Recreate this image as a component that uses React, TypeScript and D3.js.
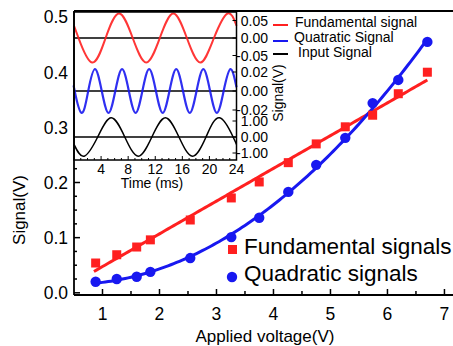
import React from "react";
import * as d3 from "d3";

// main plot data
const voltage = [0.88, 1.25, 1.6, 1.84, 2.54, 3.26, 3.75, 4.26, 4.75, 5.26, 5.74, 6.19, 6.7];
const fundamental = [0.054, 0.069, 0.083, 0.096, 0.132, 0.172, 0.201, 0.236, 0.27, 0.301, 0.322, 0.361, 0.4];
const quadratic = [0.02, 0.025, 0.029, 0.038, 0.063, 0.101, 0.136, 0.183, 0.232, 0.281, 0.344, 0.386, 0.455];
const fitRange = [0.85, 6.7];
const xTicks = [1, 2, 3, 4, 5, 6, 7];
const yTicks = [0, 0.1, 0.2, 0.3, 0.4, 0.5];

// inset traces: key points (extrema and zero crossings)
const redT = [0, 0.67, 2.67, 4.67, 6.67, 8.67, 10.67, 12.67, 14.67, 16.67, 18.67, 20.67, 22.67, 24];
const redV = [0.035, 0, -0.07, 0, 0.07, 0, -0.07, 0, 0.07, 0, -0.07, 0, 0.07, 0.035];
const blueT = [0, 0.1, 1.1, 2.1, 3.1, 4.1, 5.1, 6.1, 7.1, 8.1, 9.1, 10.1, 11.1, 12.1, 13.1, 14.1, 15.1, 16.1, 17.1, 18.1, 19.1, 20.1, 21.1, 22.1, 23.1, 24];
const blueV = [0.004, 0, -0.023, 0, 0.023, 0, -0.023, 0, 0.023, 0, -0.023, 0, 0.023, 0, -0.023, 0, 0.023, 0, -0.023, 0, 0.023, 0, -0.023, 0, 0.023, 0.004];
const blackT = [0, 1.5, 3.5, 5.5, 7.5, 9.5, 11.5, 13.5, 15.5, 17.5, 19.5, 21.5, 23.5, 24];
const blackV = [-0.46, -1.2, 0, 1.2, 0, -1.2, 0, 1.2, 0, -1.2, 0, 1.2, 0, -0.46];
const timeTicks = [4, 8, 12, 16, 20, 24];
const redTicks = [0.05, 0, -0.05];
const blueTicks = [0.02, 0, -0.02];
const blackTicks = [1, 0, -1];

const RED = "#ff2020";
const BLUE = "#1818f0";
const FONT = "'Liberation Sans', Arial, sans-serif";

function linFit(xs: number[], ys: number[]) {
  const mx = d3.mean(xs)!;
  const my = d3.mean(ys)!;
  const b = d3.sum(xs, (v, i) => (v - mx) * (ys[i] - my)) / d3.sum(xs, (v) => (v - mx) ** 2);
  return (v: number) => my + b * (v - mx);
}

// least squares quadratic through the points
function quadFit(xs: number[], ys: number[]) {
  const s = [0, 1, 2, 3, 4].map((k) => d3.sum(xs, (v) => v ** k));
  const t = [0, 1, 2].map((k) => d3.sum(xs, (v, i) => v ** k * ys[i]));
  const m = [
    [s[0], s[1], s[2]],
    [s[1], s[2], s[3]],
    [s[2], s[3], s[4]],
  ];
  const det = (a: number[][]) =>
    a[0][0] * (a[1][1] * a[2][2] - a[1][2] * a[2][1]) -
    a[0][1] * (a[1][0] * a[2][2] - a[1][2] * a[2][0]) +
    a[0][2] * (a[1][0] * a[2][1] - a[1][1] * a[2][0]);
  const D = det(m);
  const c = [0, 1, 2].map((j) => det(m.map((row, i) => row.map((v, k) => (k === j ? t[i] : v)))) / D);
  return (v: number) => c[0] + c[1] * v + c[2] * v * v;
}

export default function App() {
  const x = d3.scaleLinear().domain([0.5, 7.15]).range([74, 453]);
  const y = d3.scaleLinear().domain([-0.004, 0.511]).range([295, 11]);

  const fitX = d3.range(fitRange[0], fitRange[1] + 0.001, 0.05);
  const lf = linFit(voltage, fundamental);
  const qf = quadFit(voltage, quadratic);
  const redFit = d3.line<number>().x((v) => x(v)).y((v) => y(lf(v)))(fitX)!;
  const blueFit = d3.line<number>().x((v) => x(v)).y((v) => y(qf(v)))(fitX)!;

  // inset scales
  const tx = d3.scaleLinear().domain([0, 24]).range([74, 236.5]);
  const ry = d3.scaleLinear().domain([-0.05, 0.05]).range([55.5, 20.5]);
  const by = d3.scaleLinear().domain([-0.02, 0.02]).range([110, 72]);
  const ky = d3.scaleLinear().domain([-1, 1]).range([153, 121]);
  const trace = (ts: number[], vs: number[], sy: d3.ScaleLinear<number, number>) =>
    d3
      .line<number>()
      .x((t) => tx(t))
      .y((_, i) => sy(vs[i]))
      .curve(d3.curveNatural)(ts)!;

  const xMinor = d3.range(1, 7.2, 0.5);
  const yMinor = d3.range(0, 0.51, 0.025);
  const tMinor = d3.range(1, 24, 1);

  const inL = 74,
    inR = 236.5,
    inT = 12,
    inB = 160;

  return (
    <svg
      width={453}
      height={346}
      style={{ position: "fixed", left: 0, top: 0, background: "#fff" }}
      fontFamily={FONT}
    >
      <rect width={453} height={346} fill="#fff" />

      {/* main axes ticks */}
      {yMinor.map((v, i) => (
        <line key={"ym" + i} x1={74} x2={i % 4 === 0 ? 80 : 77} y1={y(v)} y2={y(v)} stroke="#000" strokeWidth={1.5} />
      ))}
      {xMinor.map((v) => (
        <line key={"xm" + v} x1={x(v)} x2={x(v)} y1={295} y2={v % 1 === 0 ? 289 : 291} stroke="#000" strokeWidth={1.5} />
      ))}
      {yTicks.map((v) => (
        <text key={"yt" + v} x={68} y={y(v)} dy="0.36em" textAnchor="end" fontSize={17.5}>
          {v.toFixed(1)}
        </text>
      ))}
      {xTicks.map((v) => (
        <text key={"xt" + v} x={x(v)} y={320} textAnchor="middle" fontSize={17.5}>
          {v}
        </text>
      ))}
      <text x={265} y={342} textAnchor="middle" fontSize={17}>
        Applied voltage(V)
      </text>
      <text transform="translate(25,210) rotate(-90)" textAnchor="middle" fontSize={17}>
        Signal(V)
      </text>

      {/* fits and points */}
      <path d={redFit} fill="none" stroke={RED} strokeWidth={3} />
      <path d={blueFit} fill="none" stroke={BLUE} strokeWidth={3} />
      {voltage.map((v, i) => (
        <rect key={"f" + i} x={x(v) - 4.5} y={y(fundamental[i]) - 4.5} width={9} height={9} fill={RED} />
      ))}
      {voltage.map((v, i) => (
        <circle key={"q" + i} cx={x(v)} cy={y(quadratic[i])} r={5.2} fill={BLUE} />
      ))}

      {/* main legend */}
      <rect x={228} y={245} width={9} height={9} fill={RED} />
      <text x={244} y={254} fontSize={22.5}>
        Fundamental signals
      </text>
      <circle cx={232} cy={277} r={5.2} fill={BLUE} />
      <text x={244} y={281} fontSize={22.5}>
        Quadratic signals
      </text>

      {/* frame */}
      <line x1={74} x2={453} y1={11} y2={11} stroke="#000" strokeWidth={1.8} />
      <line x1={74} x2={453} y1={295} y2={295} stroke="#000" strokeWidth={1.8} />

      {/* inset */}
      <rect x={inL} y={inT} width={inR - inL} height={inB - inT} fill="#fff" />
      {[ry(0), by(0), ky(0)].map((yy, i) => (
        <line key={"z" + i} x1={inL} x2={inR} y1={yy} y2={yy} stroke="#000" strokeWidth={1.3} />
      ))}
      <path d={trace(redT, redV, ry)} fill="none" stroke={RED} strokeWidth={2} strokeOpacity={0.9} />
      <path d={trace(blueT, blueV, by)} fill="none" stroke={BLUE} strokeWidth={2.2} strokeOpacity={0.9} />
      <path d={trace(blackT, blackV, ky)} fill="none" stroke="#000" strokeWidth={1.5} />
      <rect x={inL} y={inT} width={inR - inL} height={inB - inT} fill="none" stroke="#000" strokeWidth={1.5} />
      <line x1={74} x2={74} y1={11} y2={295} stroke="#000" strokeWidth={1.8} />

      {tMinor.map((t) => (
        <line key={"tm" + t} x1={tx(t)} x2={tx(t)} y1={inB} y2={inB - (t % 4 === 0 ? 4 : 2)} stroke="#000" strokeWidth={1} />
      ))}
      {timeTicks.map((t) => (
        <text key={"tt" + t} x={tx(t)} y={174} textAnchor="middle" fontSize={14}>
          {t}
        </text>
      ))}
      <text x={152} y={188} textAnchor="middle" fontSize={14}>
        Time (ms)
      </text>

      {/* inset right axis */}
      {(
        [
          [redTicks, ry],
          [blueTicks, by],
          [blackTicks, ky],
        ] as [number[], d3.ScaleLinear<number, number>][]
      ).map(([ticks, sc], j) =>
        ticks.map((v) => (
          <g key={"r" + j + v}>
            <line x1={inR} x2={inR - 4} y1={sc(v)} y2={sc(v)} stroke="#000" strokeWidth={1} />
            <text x={268} y={sc(v)} dy="0.36em" textAnchor="end" fontSize={14}>
              {v.toFixed(2)}
            </text>
          </g>
        ))
      )}
      <text transform="translate(283,93) rotate(-90)" textAnchor="middle" fontSize={14}>
        Signal(V)
      </text>

      {/* inset legend */}
      <line x1={273} x2={288} y1={25} y2={25} stroke={RED} strokeWidth={2} />
      <text x={295} y={27} fontSize={14}>
        Fundamental signal
      </text>
      <line x1={273} x2={288} y1={41} y2={41} stroke={BLUE} strokeWidth={2} />
      <text x={294} y={42} fontSize={14}>
        Quatratic Signal
      </text>
      <line x1={273} x2={288} y1={54} y2={54} stroke="#000" strokeWidth={2} />
      <text x={298} y={57} fontSize={14}>
        Input Signal
      </text>
    </svg>
  );
}
